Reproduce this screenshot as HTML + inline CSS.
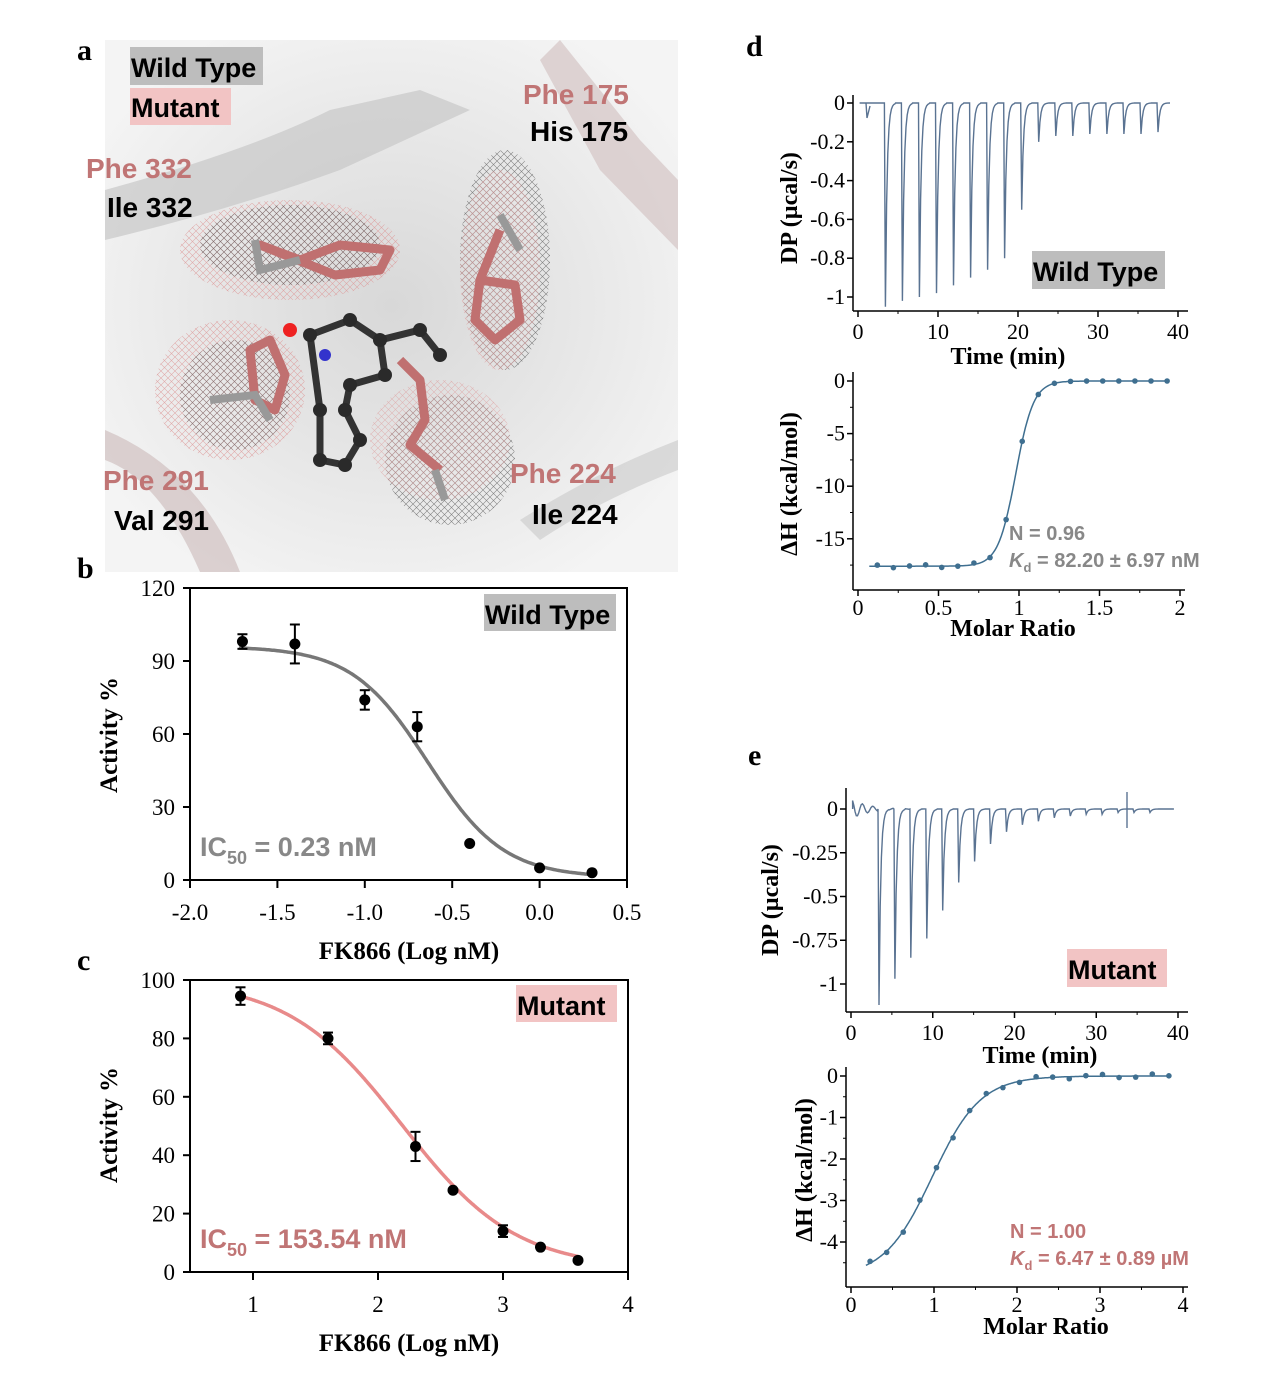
<!DOCTYPE html>
<html><head><meta charset="utf-8"><style>
body{margin:0;background:#fff;}
svg{display:block;font-family:"Liberation Serif",serif;}
.s{font-family:"Liberation Sans","DejaVu Sans",sans-serif;font-weight:bold;}
</style></head><body>
<svg id="c" width="1269" height="1399" viewBox="0 0 1269 1399" xmlns="http://www.w3.org/2000/svg">
<rect width="1269" height="1399" fill="#fff"/>
<defs>
<radialGradient id="bg" cx="50%" cy="50%" r="60%"><stop offset="0" stop-color="#d8d8d8"/><stop offset="1" stop-color="#f4f4f4"/></radialGradient>
<pattern id="mg" width="7" height="7" patternUnits="userSpaceOnUse"><path d="M0 0L7 7M7 0L0 7" stroke="#555" stroke-width="0.6"/></pattern>
<pattern id="mp" width="7" height="7" patternUnits="userSpaceOnUse"><path d="M0 0L7 7M7 0L0 7" stroke="#d99" stroke-width="0.6"/></pattern>
</defs>
<rect x="105" y="40" width="573" height="532" fill="url(#bg)"/>
<path d="M105 190 Q250 150 330 110 L420 90 L470 110 L340 170 Q230 210 105 240Z" fill="#c8c8c8" opacity="0.7"/>
<path d="M560 40 L640 140 L678 180 L678 250 L600 170 L540 60Z" fill="#d4c4c4" opacity="0.7"/>
<path d="M105 430 Q200 470 240 572 L200 572 Q160 480 105 460Z" fill="#d0c0c0" opacity="0.7"/>
<path d="M520 520 Q600 470 678 440 L678 470 Q600 500 540 540Z" fill="#cfcfcf" opacity="0.7"/>
<ellipse cx="290" cy="250" rx="110" ry="50" fill="url(#mp)" opacity="0.8"/>
<ellipse cx="290" cy="245" rx="90" ry="40" fill="url(#mg)" opacity="0.7"/>
<ellipse cx="505" cy="260" rx="45" ry="110" fill="url(#mg)" opacity="0.7"/>
<ellipse cx="500" cy="270" rx="40" ry="100" fill="url(#mp)" opacity="0.7"/>
<ellipse cx="230" cy="390" rx="75" ry="70" fill="url(#mp)" opacity="0.8"/>
<ellipse cx="235" cy="395" rx="55" ry="55" fill="url(#mg)" opacity="0.6"/>
<ellipse cx="450" cy="460" rx="65" ry="65" fill="url(#mg)" opacity="0.7"/>
<ellipse cx="440" cy="440" rx="70" ry="60" fill="url(#mp)" opacity="0.6"/>
<g stroke="#c07070" stroke-width="9" fill="none" stroke-linejoin="round">
<path d="M260 245 L300 260 L340 245 L390 250 L380 270 L335 275 Z"/>
<path d="M480 280 L475 320 L495 340 L520 320 L515 285 Z M480 280 L500 230"/>
<path d="M250 350 L270 340 L285 375 L275 410 L255 400 Z"/>
<path d="M400 360 L420 380 L425 420 L410 445 L440 470"/>
</g>
<g stroke="#999" stroke-width="8" fill="none"><path d="M255 240 L260 270 L300 260 M210 400 L255 395 L270 420 M500 215 L520 250 M435 470 L445 500"/></g>
<g stroke="#333" stroke-width="7" fill="none"><path d="M310 335 L350 320 L380 340 L385 375 L350 385 L345 410 L360 440 L345 465 L320 460 L320 410 Z M380 340 L420 330 L440 355"/></g>
<g fill="#2a2a2a"><circle cx="310" cy="335" r="7"/><circle cx="350" cy="320" r="7"/><circle cx="380" cy="340" r="7"/><circle cx="385" cy="375" r="7"/><circle cx="350" cy="385" r="7"/><circle cx="345" cy="410" r="7"/><circle cx="360" cy="440" r="7"/><circle cx="345" cy="465" r="7"/><circle cx="320" cy="460" r="7"/><circle cx="320" cy="410" r="7"/><circle cx="420" cy="330" r="7"/><circle cx="440" cy="355" r="7"/></g>
<circle cx="290" cy="330" r="7" fill="#e22"/><circle cx="325" cy="355" r="6" fill="#33c"/>
<text x="77" y="60" font-size="30" font-weight="bold">a</text>
<rect x="130" y="47" width="133" height="38" fill="#bdbdbd"/><text class="s" x="131" y="77" font-size="27">Wild Type</text>
<rect x="130" y="88" width="101" height="37" fill="#f2c4c4"/><text class="s" x="131" y="117" font-size="27">Mutant</text>
<g class="s" font-size="28">
<text x="523" y="104" fill="#c07575">Phe 175</text><text x="530" y="141">His 175</text>
<text x="86" y="178" fill="#c07575">Phe 332</text><text x="107" y="217">Ile 332</text>
<text x="103" y="490" fill="#c07575">Phe 291</text><text x="114" y="530">Val 291</text>
<text x="510" y="483" fill="#c07575">Phe 224</text><text x="532" y="524">Ile 224</text>
</g>
<g id="dyn"></g>
</svg>
<script>
const NS="http://www.w3.org/2000/svg",g=document.getElementById('dyn');
function el(t,a,txt){const e=document.createElementNS(NS,t);for(const k in a)e.setAttribute(k,a[k]);if(txt!=null)e.textContent=txt;g.appendChild(e);return e;}
function ln(x1,y1,x2,y2,w,c){el('line',{x1,y1,x2,y2,stroke:c||'#000','stroke-width':w||2});}
function tx(x,y,s,fs,opt){return el('text',Object.assign({x,y,'font-size':fs},opt||{}),s);}
tx(77,578,'b',30,{'font-weight':'bold'});
el('rect',{x:190,y:588,width:437,height:292,fill:'none',stroke:'#000','stroke-width':2});
let X=v=>190+(v+2)*174.8, Y=v=>880-v*292/120;
[0,30,60,90,120].forEach(v=>{ln(183,Y(v),190,Y(v));tx(175,Y(v)+8,v,23,{'text-anchor':'end'});});
[-2,-1.5,-1,-0.5,0,0.5].forEach(v=>{ln(X(v),880,X(v),888);tx(X(v),920,v.toFixed(1),23,{'text-anchor':'middle'});});
let d='';for(let x=-1.72;x<=0.3;x+=0.01){const y=1+95/(1+Math.pow(10,(x+0.64)*2));d+=(d?'L':'M')+X(x).toFixed(1)+' '+Y(y).toFixed(1);}
el('path',{d,fill:'none',stroke:'#777','stroke-width':3.5});
[[-1.7,98,3],[-1.4,97,8],[-1,74,4],[-0.7,63,6],[-0.4,15,0],[0,5,0],[0.3,3,0]].forEach(p=>{if(p[2]){ln(X(p[0]),Y(p[1]+p[2]),X(p[0]),Y(p[1]-p[2]));ln(X(p[0])-5,Y(p[1]+p[2]),X(p[0])+5,Y(p[1]+p[2]));ln(X(p[0])-5,Y(p[1]-p[2]),X(p[0])+5,Y(p[1]-p[2]));}el('circle',{cx:X(p[0]),cy:Y(p[1]),r:5.5});});
el('rect',{x:484,y:594,width:132,height:37,fill:'#bdbdbd'});tx(485,624,'Wild Type',27,{class:'s'});
let t=tx(200,856,'IC',27,{class:'s',fill:'#888'});t.innerHTML='IC<tspan font-size="18" dy="8">50</tspan><tspan dy="-8"> = 0.23 nM</tspan>';
tx(117,735,'Activity %',25,{'font-weight':'bold',transform:'rotate(-90 117 735)','text-anchor':'middle'});
tx(409,959,'FK866 (Log nM)',25,{'font-weight':'bold','text-anchor':'middle'});
tx(77,970,'c',30,{'font-weight':'bold'});
el('rect',{x:190,y:980,width:438,height:292,fill:'none',stroke:'#000','stroke-width':2});
X=v=>190.5+(v-0.5)*125; Y=v=>1272-v*2.92;
[0,20,40,60,80,100].forEach(v=>{ln(183,Y(v),190,Y(v));tx(175,Y(v)+8,v,23,{'text-anchor':'end'});});
[1,2,3,4].forEach(v=>{ln(X(v),1272,X(v),1280);tx(X(v),1312,v,23,{'text-anchor':'middle'});});
d='';for(let x=0.9;x<=3.6;x+=0.01){const y=1+99/(1+Math.pow(10,(x-2.19)*0.95));d+=(d?'L':'M')+X(x).toFixed(1)+' '+Y(y).toFixed(1);}
el('path',{d,fill:'none',stroke:'#e88a8a','stroke-width':3.5});
[[0.9,94.5,3],[1.6,80,2],[2.3,43,5],[2.6,28,0],[3,14,2],[3.3,8.5,0],[3.6,4,0]].forEach(p=>{if(p[2]){ln(X(p[0]),Y(p[1]+p[2]),X(p[0]),Y(p[1]-p[2]));ln(X(p[0])-5,Y(p[1]+p[2]),X(p[0])+5,Y(p[1]+p[2]));ln(X(p[0])-5,Y(p[1]-p[2]),X(p[0])+5,Y(p[1]-p[2]));}el('circle',{cx:X(p[0]),cy:Y(p[1]),r:5.5});});
el('rect',{x:516,y:985,width:101,height:37,fill:'#f2c4c4'});tx(517,1015,'Mutant',27,{class:'s'});
t=tx(200,1248,'',27,{class:'s',fill:'#c07575'});t.innerHTML='IC<tspan font-size="18" dy="8">50</tspan><tspan dy="-8"> = 153.54 nM</tspan>';
tx(117,1125,'Activity %',25,{'font-weight':'bold',transform:'rotate(-90 117 1125)','text-anchor':'middle'});
tx(409,1351,'FK866 (Log nM)',25,{'font-weight':'bold','text-anchor':'middle'});
const C='#5a7392';
function itc(o){
 const {x0,x1,xmax,y0,yscale,ticksY,labY,bottom,left,depths,noise}=o;
 const X=v=>x0+(v)*(x1-x0)/xmax, Y=v=>y0-v*yscale;
 ln(left,o.top,left,bottom,1.5);ln(left,bottom,X(xmax)+10,bottom,1.5);
 ticksY.forEach((v,i)=>{ln(left-6,Y(v),left,Y(v),1.5);tx(left-8,Y(v)+7,labY[i],22,{'text-anchor':'end'});});
 for(let v=0;v<=xmax;v+=o.xstep){ln(X(v),bottom,X(v),bottom+6,1.5);tx(X(v),bottom+28,v,22,{'text-anchor':'middle'});}
 for(let v=o.xstep/2;v<=xmax;v+=o.xstep)ln(X(v),bottom,X(v),bottom+3,1);
 let d='M'+X(0.2)+' '+Y(0);let tt=0.2;
 depths.forEach((dp,i)=>{const ti=o.t0+i*o.dt;
  for(;tt<ti;tt+=0.15){const n=noise?(Math.sin(tt*37)*noise*Math.exp(-tt/2)):0;d+='L'+X(tt).toFixed(1)+' '+Y(n).toFixed(1);}
  d+='L'+X(ti).toFixed(1)+' '+Y(0)+'L'+X(ti+0.12).toFixed(1)+' '+Y(dp).toFixed(1);
  for(let k=1;k<=8;k++){const s=ti+0.12+k*0.15;d+='L'+X(s).toFixed(1)+' '+Y(dp*Math.exp(-k*0.7)).toFixed(1);}
  tt=ti+1.4;});
 d+='L'+X(o.tend)+' '+Y(0);
 el('path',{d,fill:'none',stroke:C,'stroke-width':1.4});
}
function iso(o){
 const {x0,xs,y0,ys,bottom,left,top,xmax,f,pts,ticksY}=o;
 const X=v=>x0+v*xs,Y=v=>y0-v*ys;
 ln(left,top,left,bottom,1.5);ln(left,bottom,X(xmax)+5,bottom,1.5);
 ticksY.forEach(v=>{ln(left-6,Y(v),left,Y(v),1.5);tx(left-8,Y(v)+7,v,22,{'text-anchor':'end'});});
 o.minor.forEach(v=>ln(left-3,Y(v),left,Y(v),1));
 for(let v=0;v<=xmax+1e-9;v+=o.xstep){ln(X(v),bottom,X(v),bottom+6,1.5);tx(X(v),bottom+25,+v.toFixed(1),22,{'text-anchor':'middle'});}
 for(let v=o.xstep/2;v<=xmax;v+=o.xstep)ln(X(v),bottom,X(v),bottom+3,1);
 let d='';for(let x=pts[0][0]-0.05;x<=pts[pts.length-1][0];x+=0.01)d+=(d?'L':'M')+X(x).toFixed(1)+' '+Y(f(x)).toFixed(1);
 el('path',{d,fill:'none',stroke:'#3f6f90','stroke-width':1.5});
 pts.forEach(p=>el('circle',{cx:X(p[0]),cy:Y(p[1]),r:2.8,fill:'#3f6f90'}));
}
tx(746,56,'d',30,{'font-weight':'bold'});
itc({x0:858,x1:1178,xmax:40,y0:103,yscale:194,top:95,bottom:311,left:853,ticksY:[0,-0.2,-0.4,-0.6,-0.8,-1],labY:['0','-0.2','-0.4','-0.6','-0.8','-1'],xstep:10,t0:3.3,dt:2.13,tend:39,depths:[-1.05,-1.02,-1.0,-0.98,-0.94,-0.9,-0.86,-0.8,-0.55,-0.2,-0.17,-0.17,-0.16,-0.16,-0.16,-0.16,-0.15]});
el('path',{d:'M866 103L867 118L870 106',fill:'none',stroke:C,'stroke-width':1.4});
el('rect',{x:1032,y:251,width:133,height:38,fill:'#bdbdbd'});tx(1033,281,'Wild Type',27,{class:'s'});
tx(797,208,'DP (µcal/s)',24,{'font-weight':'bold',transform:'rotate(-90 797 208)','text-anchor':'middle'});
tx(1008,364,'Time (min)',24,{'font-weight':'bold','text-anchor':'middle'});
let fd=x=>-17.6/(1+Math.exp((x-0.98)/0.055));
let pd=[];for(let x=0.12;x<2;x+=0.1)pd.push([x,fd(x)+(x<0.9?0.15*Math.sin(x*20):0)]);
iso({x0:858,xs:161,y0:381,ys:10.52,top:372,bottom:590,left:853,xmax:2,xstep:0.5,f:fd,pts:pd,ticksY:[0,-5,-10,-15],minor:[-2.5,-7.5,-12.5,-17.5]});
tx(797,484,'ΔH (kcal/mol)',24,{'font-weight':'bold',transform:'rotate(-90 797 484)','text-anchor':'middle'});
tx(1013,636,'Molar Ratio',24,{'font-weight':'bold','text-anchor':'middle'});
tx(1009,540,'N = 0.96',20,{class:'s',fill:'#888'});
t=tx(1009,567,'',20,{class:'s',fill:'#888'});t.innerHTML='<tspan font-style="italic">K</tspan><tspan font-size="13" dy="5">d</tspan><tspan dy="-5"> = 82.20 ± 6.97 nM</tspan>';
tx(748,765,'e',30,{'font-weight':'bold'});
itc({x0:851,x1:1178,xmax:40,y0:809,yscale:175,top:788,bottom:1012,left:846,ticksY:[0,-0.25,-0.5,-0.75,-1],labY:['0','-0.25','-0.5','-0.75','-1'],xstep:10,t0:3.3,dt:1.95,tend:39.5,noise:0.06,depths:[-1.12,-0.97,-0.85,-0.74,-0.58,-0.42,-0.3,-0.2,-0.13,-0.09,-0.07,-0.05,-0.04,-0.03,-0.03,-0.02,-0.02,-0.02]});
ln(1127,792,1127,828,1.4,C);
el('rect',{x:1067,y:949,width:100,height:38,fill:'#f2c4c4'});tx(1068,979,'Mutant',27,{class:'s'});
tx(778,900,'DP (µcal/s)',24,{'font-weight':'bold',transform:'rotate(-90 778 900)','text-anchor':'middle'});
tx(1040,1063,'Time (min)',24,{'font-weight':'bold','text-anchor':'middle'});
let fe=x=>-4.85/(1+Math.exp((x-0.98)/0.29));
let pe=[];for(let x=0.23;x<3.95;x+=0.2)pe.push([x,fe(x)+0.05*Math.sin(x*9)]);
iso({x0:851,xs:83,y0:1076,ys:41.5,top:1067,bottom:1287,left:846,xmax:4,xstep:1,f:fe,pts:pe,ticksY:[0,-1,-2,-3,-4],minor:[-0.5,-1.5,-2.5,-3.5,-4.5]});
tx(812,1170,'ΔH (kcal/mol)',24,{'font-weight':'bold',transform:'rotate(-90 812 1170)','text-anchor':'middle'});
tx(1046,1334,'Molar Ratio',24,{'font-weight':'bold','text-anchor':'middle'});
tx(1010,1238,'N = 1.00',20,{class:'s',fill:'#c07575'});
t=tx(1010,1265,'',20,{class:'s',fill:'#c07575'});t.innerHTML='<tspan font-style="italic">K</tspan><tspan font-size="13" dy="5">d</tspan><tspan dy="-5"> = 6.47 ± 0.89 µM</tspan>';
</script>
</body></html>
